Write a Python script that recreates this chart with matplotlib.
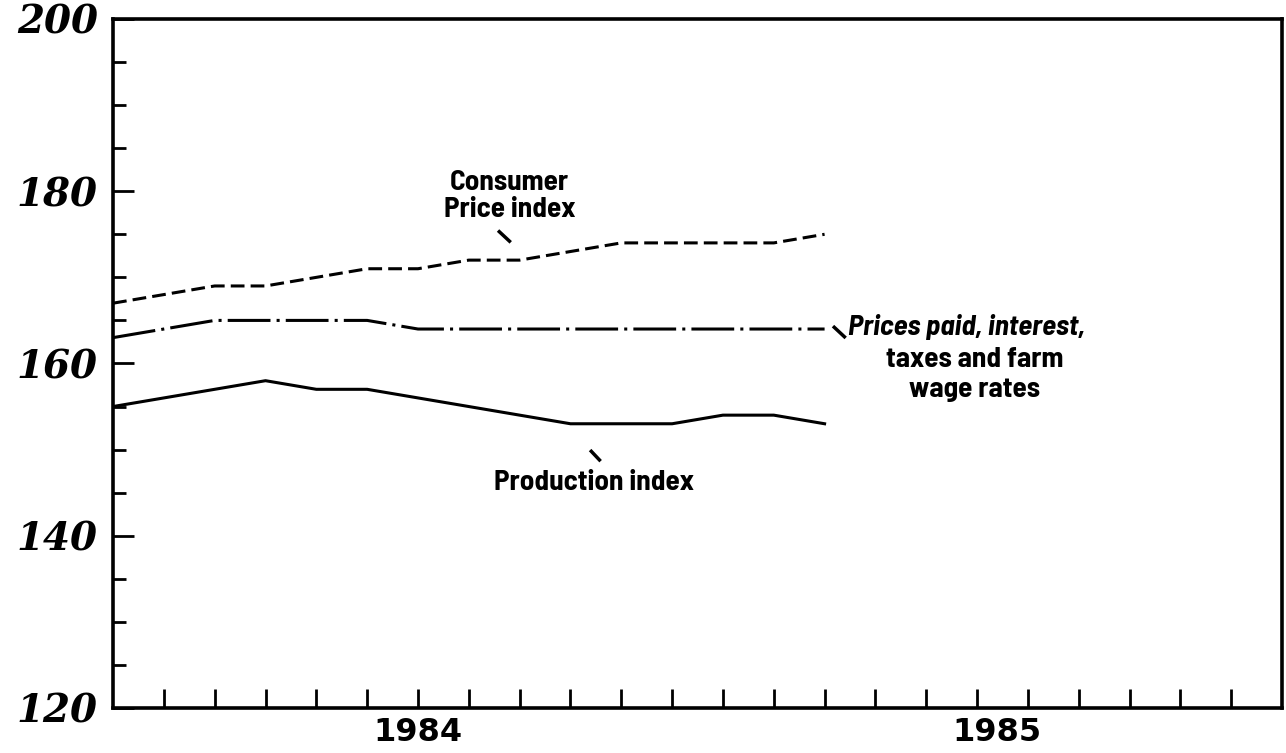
import matplotlib
matplotlib.use("Agg")
import matplotlib.pyplot as plt
import matplotlib.font_manager as fm
from matplotlib.ticker import MultipleLocator, FixedLocator

# months since Jan 1984 (index 0 = Jan 1984)
months = list(range(15))
consumer_price = [167, 168, 169, 169, 170, 171, 171, 172, 172, 173, 174, 174, 174, 174, 175]
prices_paid = [163, 164, 165, 165, 165, 165, 164, 164, 164, 164, 164, 164, 164, 164, 164]
production = [155, 156, 157, 158, 157, 157, 156, 155, 154, 153, 153, 153, 154, 154, 153]

year_labels = ["1984", "1985"]
year_pos = [6.0, 17.4]


def weight_num(w):
    if isinstance(w, (int, float)):
        return int(w)
    return fm.weight_dict.get(str(w).lower(), 400)


def pick_label_font():
    # the original uses a narrow, heavy face; semi-condensed bold is closest in width
    best = None
    for f in fm.fontManager.ttflist:
        if f.style != "normal":
            continue
        w = weight_num(f.weight)
        if w < 700 or w > 800:
            continue
        if "SemiCondensed" in f.name or "Semi Condensed" in f.name:
            score = 3
        elif "Narrow" in f.name:
            score = 2
        elif "Condensed" in f.name:
            score = 1
        else:
            continue
        if best is None or score > best[0]:
            best = (score, f.name, w)
    if best is None:
        return {"family": ["DejaVu Sans"], "fontweight": "bold"}, 17
    size = {3: 21, 2: 21, 1: 23}[best[0]]
    return {"family": [best[1], "DejaVu Sans"], "fontweight": best[2]}, size


label_kw, label_size = pick_label_font()

fig = plt.figure(figsize=(12.86, 7.53), dpi=100)
ax = fig.add_axes([0.0879, 0.0598, 0.9090, 0.9150])

ax.plot(months, consumer_price, color="black", lw=2.2, linestyle=(0, (4.5, 2)))
ax.plot(months, prices_paid, color="black", lw=2.2, linestyle=(0, (14, 2, 1, 2)))
ax.plot(months, production, color="black", lw=2.2)

ax.set_xlim(0, 23)
ax.set_ylim(120, 200)

for s in ax.spines.values():
    s.set_linewidth(2.6)

ax.yaxis.set_major_locator(MultipleLocator(20))
ax.yaxis.set_minor_locator(MultipleLocator(5))
ax.xaxis.set_major_locator(FixedLocator(range(1, 23)))
ax.tick_params(axis="y", which="major", direction="in", length=15, width=2, pad=11)
ax.tick_params(axis="y", which="minor", direction="in", length=9, width=2)
ax.tick_params(axis="x", which="major", direction="in", length=14, width=2, labelbottom=False)
for lab in ax.get_yticklabels():
    lab.set_fontfamily("DejaVu Serif")
    lab.set_fontweight("bold")
    lab.set_fontstyle("italic")
    lab.set_fontsize(28)

for txt, xp in zip(year_labels, year_pos):
    ax.text(xp, -0.036, txt, transform=ax.get_xaxis_transform(), ha="center", va="center",
            fontsize=23, fontweight="bold", family="DejaVu Sans")

# series labels
ax.text(7.8, 179.5, "Consumer\nPrice index", ha="center", va="center", fontsize=label_size,
        linespacing=1.1, **label_kw)
ax.plot([7.6, 7.8], [175.3, 174.2], color="black", lw=2.5)

ax.text(16.8, 164.2, "Prices paid, interest,", ha="center", va="center", fontsize=label_size,
        fontstyle="italic", **label_kw)
ax.text(16.95, 158.7, "taxes and farm\nwage rates", ha="center", va="center", fontsize=label_size,
        linespacing=1.25, **label_kw)
ax.plot([14.19, 14.39], [164.2, 163.1], color="black", lw=2.5)

ax.text(9.47, 146.2, "Production index", ha="center", va="center", fontsize=label_size,
        **label_kw)
ax.plot([9.41, 9.57], [149.8, 148.8], color="black", lw=2.5)

plt.savefig("out.png", dpi=100)
